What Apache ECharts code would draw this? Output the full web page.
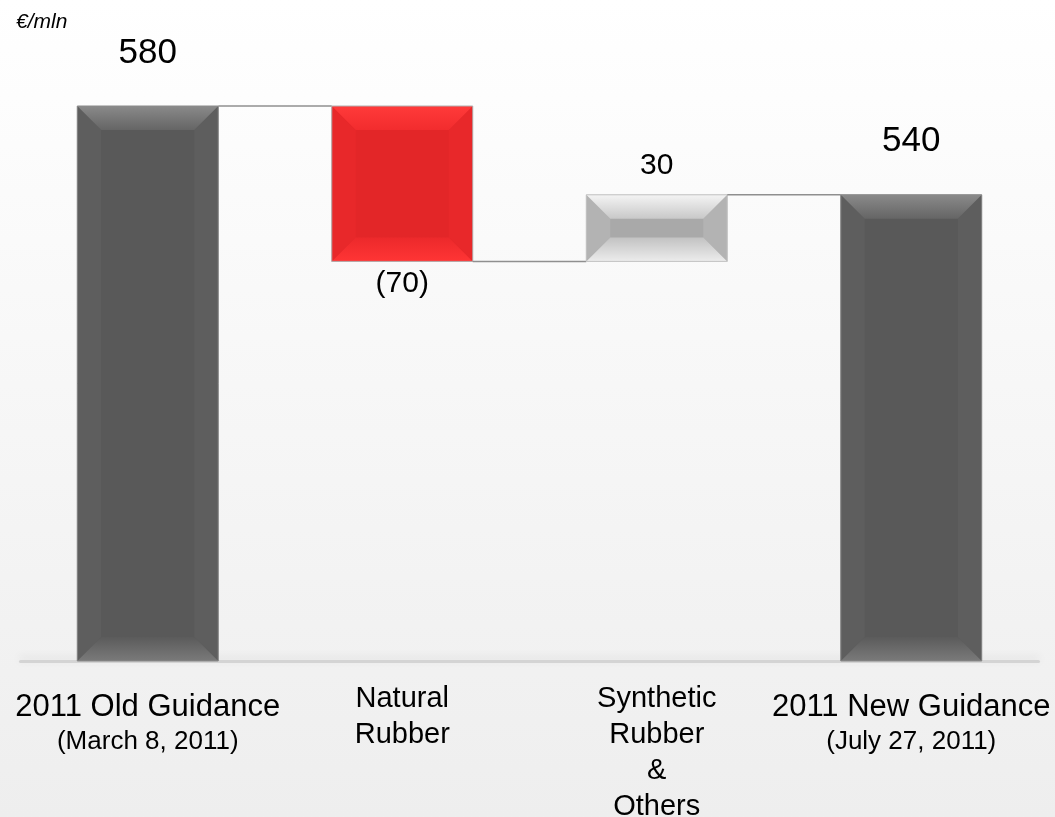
<!DOCTYPE html>
<html>
<head>
<meta charset="utf-8">
<title>Guidance bridge</title>
<script src="https://cdn.jsdelivr.net/npm/echarts@6/dist/echarts.min.js"></script>
<style>
  html, body { margin: 0; padding: 0; }
  #chart { width: 1055px; height: 817px; }
</style>
</head>
<body>
<div id="chart"></div>
<script>
// data
const categories = ['2011 Old Guidance', 'Natural Rubber', 'Synthetic Rubber & Others', '2011 New Guidance'];
const tickLabels = [
  '{big|2011 Old Guidance}\n{small|(March 8, 2011)}',
  '{mid|Natural}\n{mid|Rubber}',
  '{mid|Synthetic}\n{mid|Rubber}\n{mid|&}\n{mid|Others}',
  '{big|2011 New Guidance}\n{small|(July 27, 2011)}'
];
const values = [580, -70, 30, 540];
const isTotal = [true, false, false, true];
const valueLabels = ['580', '(70)', '30', '540'];

const FONT = '"Liberation Sans", Arial, Helvetica, sans-serif';

// bar looks: main face, top bevel, bottom bevel, side bevels, border
const looks = {
  total: {
    face: '#595959',
    top: ['#8a8a8a', '#656565'],
    bottom: ['#5b5b5b', '#7a7a7a'],
    side: '#5e5e5e',
    border: '#8a8a8a'
  },
  down: {
    face: '#e32628',
    top: ['#ff3a3a', '#f22c2e'],
    bottom: ['#ec292b', '#ff3535'],
    side: '#e8282a',
    border: '#b0b0b0'
  },
  up: {
    face: '#a9a9a9',
    top: ['#f4f4f4', '#c8c8c8'],
    bottom: ['#c2c2c2', '#ececec'],
    side: '#b3b3b3',
    border: '#c4c4c4'
  }
};

// build waterfall items: [index, low, high, connector level]
let running = 0;
const items = values.map((v, i) => {
  const prevEnd = running;
  let low, high;
  if (isTotal[i]) {
    low = 0;
    high = v;
    running = v;
  } else {
    low = Math.min(running, running + v);
    high = Math.max(running, running + v);
    running += v;
  }
  return [i, low, high, prevEnd];
});

function grad(c) {
  return new echarts.graphic.LinearGradient(0, 0, 0, 1, [
    { offset: 0, color: c[0] },
    { offset: 1, color: c[1] }
  ]);
}

function renderItem(params, api) {
  const i = api.value(0);
  const cs = params.coordSys;
  const bottomEdge = cs.y + cs.height;
  const barW = 141;
  const center = api.coord([i, api.value(2)]);
  const x0 = center[0] - barW / 2;
  const x1 = x0 + barW;
  const y0 = center[1];
  const y1 = Math.min(api.coord([i, api.value(1)])[1], bottomEdge);
  const h = y1 - y0;
  const b = Math.min(24, h / 2, barW / 2);
  const look = isTotal[i] ? looks.total : (values[i] < 0 ? looks.down : looks.up);

  const children = [];

  // connector from previous bar
  if (i > 0) {
    const level = api.value(3);
    const prev = api.coord([i - 1, level]);
    const cur = api.coord([i, level]);
    children.push({
      type: 'line',
      shape: { x1: prev[0] + barW / 2, y1: prev[1], x2: cur[0] - barW / 2, y2: cur[1] },
      style: { stroke: '#8f8f8f', lineWidth: 1.5 }
    });
  }

  children.push({
    type: 'rect',
    shape: { x: x0, y: y0, width: barW, height: h },
    style: { fill: look.face }
  });
  children.push({
    type: 'polygon',
    shape: { points: [[x0, y0], [x0 + b, y0 + b], [x0 + b, y1 - b], [x0, y1]] },
    style: { fill: look.side }
  });
  children.push({
    type: 'polygon',
    shape: { points: [[x1, y0], [x1 - b, y0 + b], [x1 - b, y1 - b], [x1, y1]] },
    style: { fill: look.side }
  });
  children.push({
    type: 'polygon',
    shape: { points: [[x0, y0], [x1, y0], [x1 - b, y0 + b], [x0 + b, y0 + b]] },
    style: { fill: grad(look.top) }
  });
  children.push({
    type: 'polygon',
    shape: { points: [[x0 + b, y1 - b], [x1 - b, y1 - b], [x1, y1], [x0, y1]] },
    style: { fill: grad(look.bottom) }
  });
  children.push({
    type: 'rect',
    shape: { x: x0, y: y0, width: barW, height: h },
    style: { fill: 'none', stroke: look.border, lineWidth: 1 }
  });

  // value label
  let ly, size;
  if (isTotal[i]) {
    ly = y0 - 53;
    size = 35;
  } else if (values[i] < 0) {
    ly = y1 + 22;
    size = 30;
  } else {
    ly = y0 - 29;
    size = 30;
  }
  children.push({
    type: 'text',
    style: {
      text: valueLabels[i],
      x: center[0],
      y: ly,
      align: 'center',
      verticalAlign: 'middle',
      fontSize: size,
      fontFamily: FONT,
      fill: '#000'
    }
  });

  return { type: 'group', children: children };
}

const myChart = echarts.init(document.getElementById('chart'));
myChart.setOption({
  backgroundColor: new echarts.graphic.LinearGradient(0, 0, 0, 1, [
    { offset: 0, color: '#ffffff' },
    { offset: 1, color: '#eeeeee' }
  ]),
  animation: false,
  title: {
    text: '€/mln',
    left: 11,
    top: 7,
    textStyle: { fontSize: 21, fontStyle: 'italic', fontWeight: 'normal', fontFamily: FONT, color: '#000' }
  },
  grid: {
    left: 20.5,
    right: 16.5,
    top: 61.6,
    bottom: 156,
    containLabel: false,
    outerBoundsMode: 'none'
  },
  xAxis: {
    type: 'category',
    data: categories,
    axisTick: { show: false },
    axisLine: {
      show: true,
      lineStyle: {
        color: '#d4d4d4',
        width: 3,
        shadowColor: 'rgba(0,0,0,0.10)',
        shadowBlur: 8,
        shadowOffsetY: -3
      }
    },
    axisLabel: {
      interval: 0,
      margin: 20,
      color: '#000',
      fontFamily: FONT,
      formatter: (v, idx) => tickLabels[idx],
      rich: {
        big: { fontSize: 31, lineHeight: 52, fontFamily: FONT, color: '#000' },
        small: { fontSize: 26, lineHeight: 18, fontFamily: FONT, color: '#000' },
        mid: { fontSize: 29, lineHeight: 36, fontFamily: FONT, color: '#000' }
      }
    }
  },
  yAxis: {
    type: 'value',
    min: 330,
    max: 600,
    show: false,
    splitLine: { show: false }
  },
  series: [
    {
      type: 'custom',
      renderItem: renderItem,
      clip: false,
      encode: { x: 0, y: [1, 2] },
      data: items
    }
  ]
});
</script>
</body>
</html>
